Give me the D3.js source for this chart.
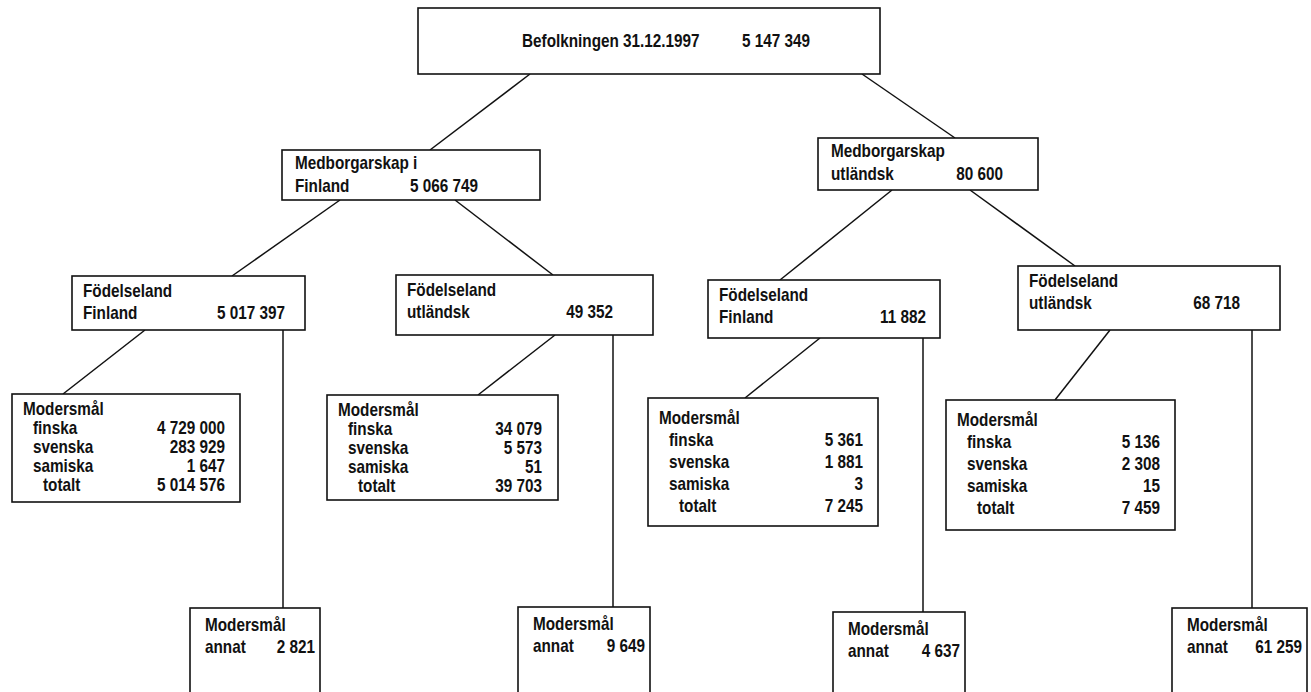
<!DOCTYPE html>
<html>
<head>
<meta charset="utf-8">
<script src="https://cdn.jsdelivr.net/npm/d3@7"></script>
<style>
  body { margin: 0; background: #fff; }
  svg text { font-family: "Liberation Sans", Arial, sans-serif; font-weight: bold; font-size: 18px; fill: #111; }
  .box { fill: #fff; stroke: #111; stroke-width: 1.6; }
  .link { stroke: #111; stroke-width: 1.5; fill: none; }
</style>
</head>
<body>
<div id="chart"></div>
<script>
// data
var rootLabel = "Befolkningen 31.12.1997";
var rootValue = 5147349;

var citizenLabels = [["Medborgarskap i", "Finland"], ["Medborgarskap", "utländsk"]];
var citizenValues = [5066749, 80600];

var birthLabels = [["Födelseland", "Finland"], ["Födelseland", "utländsk"], ["Födelseland", "Finland"], ["Födelseland", "utländsk"]];
var birthValues = [5017397, 49352, 11882, 68718];

var languages = ["finska", "svenska", "samiska", "totalt"];
var finskaValues = [4729000, 34079, 5361, 5136];
var svenskaValues = [283929, 5573, 1881, 2308];
var samiskaValues = [1647, 51, 3, 15];
var totaltValues = [5014576, 39703, 7245, 7459];
var annatValues = [2821, 9649, 4637, 61259];

// layout (pixel geometry of the diagram boxes)
var layout = {
  root: {x: 418, y: 8, w: 462, h: 66, labelX: 522, valueRight: 810},
  citizen: [
    {x: 282, y: 150, w: 258, h: 50, valueRight: 478, inX: 430},
    {x: 818, y: 138, w: 220, h: 52, valueRight: 1003, inX: 955}
  ],
  rootOut: [530, 862],
  citizenOut: [[340, 455], [892, 970]],
  birth: [
    {x: 72, y: 276, w: 233, h: 54, valueRight: 285, inX: 232, outLang: 145, outOther: 283},
    {x: 396, y: 275, w: 257, h: 60, valueRight: 613, inX: 553, outLang: 555, outOther: 613},
    {x: 708, y: 280, w: 232, h: 58, valueRight: 926, inX: 780, outLang: 820, outOther: 923},
    {x: 1018, y: 266, w: 262, h: 64, valueRight: 1240, inX: 1075, outLang: 1110, outOther: 1252}
  ],
  lang: [
    {x: 12, y: 394, w: 228, h: 108, valueRight: 225, inX: 63, top: 21, rowH: 19},
    {x: 327, y: 395, w: 231, h: 105, valueRight: 542, inX: 478, top: 21, rowH: 19},
    {x: 648, y: 398, w: 230, h: 128, valueRight: 863, inX: 745, top: 26, rowH: 22},
    {x: 946, y: 400, w: 229, h: 130, valueRight: 1160, inX: 1055, top: 26, rowH: 22}
  ],
  other: [
    {x: 190, y: 608, w: 130, h: 100},
    {x: 518, y: 607, w: 132, h: 100},
    {x: 833, y: 612, w: 132, h: 100},
    {x: 1172, y: 608, w: 135, h: 100}
  ]
};

var width = 1311, height = 692;
var squeeze = 0.85; // condensed look of the printed typeface

var fmt = d3.formatLocale({decimal: ",", thousands: " ", grouping: [3], currency: ["", ""]}).format(",d");

var svg = d3.select("#chart").append("svg")
    .attr("width", width)
    .attr("height", height);

var gLinks = svg.append("g");
var gBoxes = svg.append("g");

function line(x1, y1, x2, y2) {
  gLinks.append("line").attr("class", "link")
    .attr("x1", x1).attr("y1", y1).attr("x2", x2).attr("y2", y2);
}

function box(b) {
  return gBoxes.append("rect").attr("class", "box")
    .attr("x", b.x).attr("y", b.y).attr("width", b.w).attr("height", b.h);
}

function text(x, y, s, anchor) {
  gBoxes.append("text")
    .attr("transform", "translate(" + x + "," + y + ") scale(" + squeeze + ",1)")
    .attr("text-anchor", anchor || "start")
    .text(s);
}

// root
var r = layout.root;
box(r);
text(r.labelX, r.y + 39, rootLabel);
text(r.valueRight, r.y + 39, fmt(rootValue), "end");

// citizenship level
citizenLabels.forEach(function(lbl, i) {
  var b = layout.citizen[i];
  line(layout.rootOut[i], r.y + r.h, b.inX, b.y);
  box(b);
  text(b.x + 13, b.y + 19, lbl[0]);
  text(b.x + 13, b.y + 42, lbl[1]);
  text(b.valueRight, b.y + 42, fmt(citizenValues[i]), "end");
});

// birth country level
birthLabels.forEach(function(lbl, i) {
  var b = layout.birth[i];
  var p = layout.citizen[Math.floor(i / 2)];
  line(layout.citizenOut[Math.floor(i / 2)][i % 2], p.y + p.h, b.inX, b.y);
  box(b);
  text(b.x + 11, b.y + 21, lbl[0]);
  text(b.x + 11, b.y + 43, lbl[1]);
  text(b.valueRight, b.y + 43, fmt(birthValues[i]), "end");

  // links down to the mother tongue boxes
  var l = layout.lang[i];
  line(b.outLang, b.y + b.h, l.inX, l.y);
  var o = layout.other[i];
  line(b.outOther, b.y + b.h, b.outOther, o.y);
});

layout.lang.forEach(function(l, i) {
  box(l);
  var vals = [finskaValues[i], svenskaValues[i], samiskaValues[i], totaltValues[i]];
  text(l.x + 11, l.y + l.top, "Modersmål");
  languages.forEach(function(lang, k) {
    var y = l.y + l.top + (k + 1) * l.rowH;
    text(l.x + (lang === "totalt" ? 31 : 21), y, lang);
    text(l.valueRight, y, fmt(vals[k]), "end");
  });
});

layout.other.forEach(function(o, i) {
  box(o);
  text(o.x + 15, o.y + 23, "Modersmål");
  text(o.x + 15, o.y + 45, "annat");
  text(o.x + o.w - 5, o.y + 45, fmt(annatValues[i]), "end");
});
</script>
</body>
</html>
